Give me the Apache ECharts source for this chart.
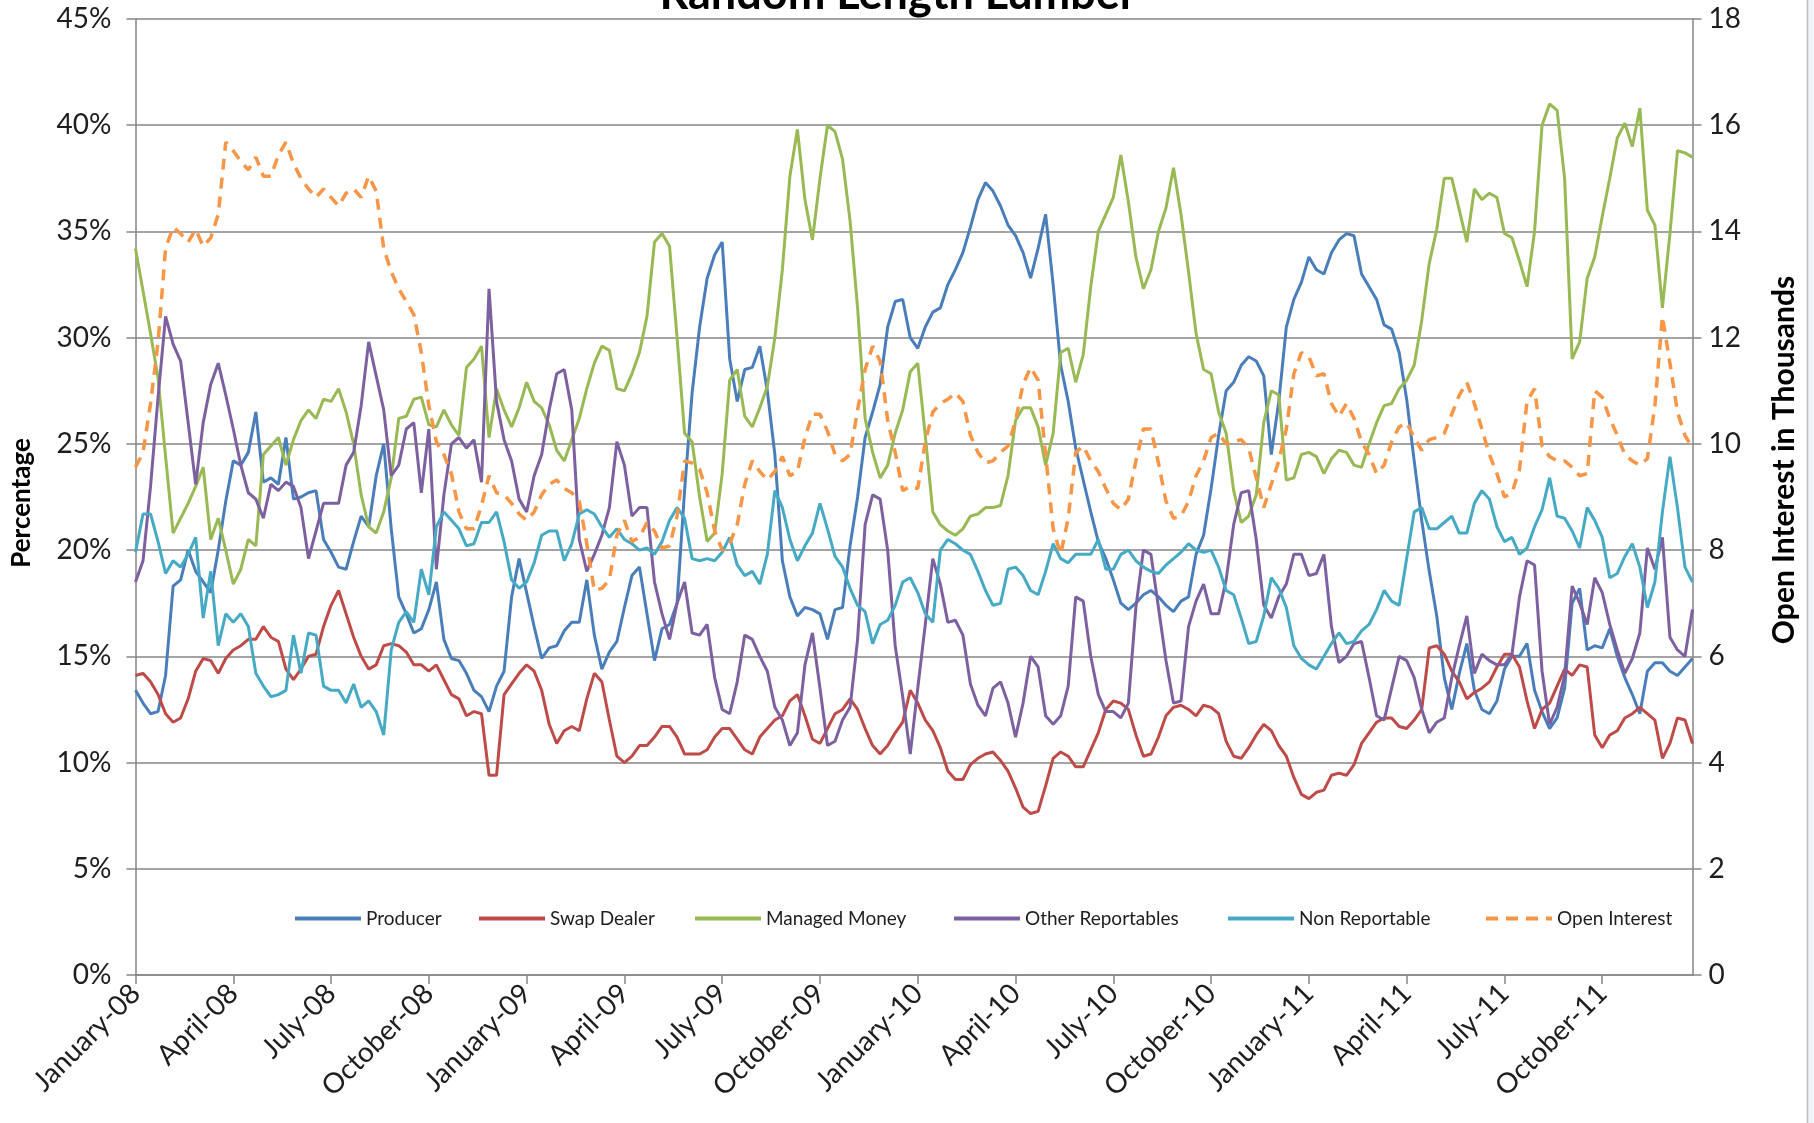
<!DOCTYPE html>
<html>
<head>
<meta charset="utf-8">
<script src="https://cdn.jsdelivr.net/npm/echarts@6/dist/echarts.min.js"></script>
<style>
  html, body { margin: 0; padding: 0; background: #ffffff; }
  #chart { width: 1814px; height: 1123px; }
</style>
</head>
<body>
<div id="chart"></div>
<script>
// Quarter labels shown every 13 weeks on the category axis
const tickLabels = [
  'January-08', 'April-08', 'July-08', 'October-08',
  'January-09', 'April-09', 'July-09', 'October-09',
  'January-10', 'April-10', 'July-10', 'October-10',
  'January-11', 'April-11', 'July-11', 'October-11'
];

// Weekly share of open interest (%), one row per quarter (13 weeks)
const producer = [
  13.4,12.8,12.3,12.4,14.1,18.3,18.6,20.0,19.0,18.5,18.0,20.0,22.3,
  24.2,24.0,24.6,26.5,23.2,23.4,23.1,25.3,22.4,22.5,22.7,22.8,20.5,
  19.9,19.2,19.1,20.4,21.6,21.1,23.5,25.0,21.0,17.8,17.0,16.1,16.3,
  17.2,18.5,15.8,14.9,14.8,14.2,13.4,13.1,12.4,13.6,14.3,17.8,19.6,
  18.0,16.4,14.9,15.4,15.5,16.2,16.6,16.6,18.6,16.0,14.4,15.2,15.7,
  17.3,18.8,19.2,17.0,14.8,16.3,16.5,17.5,22.8,27.4,30.5,32.8,33.9,
  34.5,29.0,27.0,28.5,28.6,29.6,27.5,24.5,19.5,17.8,16.9,17.3,17.2,
  17.0,15.8,17.2,17.3,20.2,22.5,25.3,26.5,27.8,30.5,31.7,31.8,30.0,
  29.5,30.5,31.2,31.4,32.5,33.2,34.0,35.2,36.5,37.3,36.9,36.2,35.3,
  34.8,34.0,32.8,34.2,35.8,32.5,28.7,27.0,24.8,23.3,21.8,20.4,19.6,
  18.6,17.5,17.2,17.5,17.9,18.1,17.8,17.4,17.1,17.6,17.8,19.8,20.7,
  22.9,25.4,27.5,27.9,28.7,29.1,28.9,28.2,24.5,27.0,30.5,31.8,32.6,
  33.8,33.2,33.0,34.0,34.6,34.9,34.8,33.0,32.4,31.8,30.6,30.4,29.3,
  27.1,24.2,21.4,19.0,16.9,14.0,12.5,14.2,15.6,13.4,12.5,12.3,12.9,
  14.4,15.0,15.0,15.6,13.4,12.4,11.6,12.1,13.5,17.5,18.2,15.3,15.5,
  15.4,16.3,15.0,14.0,13.2,12.3,14.3,14.7,14.7,14.3,14.1,14.5,14.9
];

const swapDealer = [
  14.1,14.2,13.8,13.2,12.3,11.9,12.1,13.0,14.3,14.9,14.8,14.2,14.9,
  15.3,15.5,15.8,15.8,16.4,15.9,15.7,14.4,13.9,14.4,15.0,15.1,16.4,
  17.4,18.1,17.0,15.9,15.0,14.4,14.6,15.5,15.6,15.5,15.2,14.6,14.6,
  14.3,14.6,13.9,13.2,13.0,12.2,12.4,12.3,9.4,9.4,13.2,13.7,14.2,
  14.6,14.3,13.4,11.8,10.9,11.5,11.7,11.5,13.0,14.2,13.8,12.0,10.3,
  10.0,10.3,10.8,10.8,11.2,11.7,11.7,11.2,10.4,10.4,10.4,10.6,11.2,
  11.6,11.6,11.1,10.6,10.4,11.2,11.6,12.0,12.2,12.9,13.2,12.2,11.1,
  10.9,11.6,12.3,12.5,13.0,12.5,11.6,10.8,10.4,10.8,11.4,11.9,13.4,
  12.8,12.0,11.5,10.7,9.6,9.2,9.2,9.9,10.2,10.4,10.5,10.1,9.6,
  8.8,7.9,7.6,7.7,8.9,10.2,10.5,10.3,9.8,9.8,10.6,11.4,12.5,
  12.9,12.8,12.5,11.3,10.3,10.4,11.2,12.2,12.6,12.7,12.5,12.2,12.7,
  12.6,12.3,11.0,10.3,10.2,10.7,11.3,11.8,11.5,10.8,10.3,9.3,8.5,
  8.3,8.6,8.7,9.4,9.5,9.4,9.9,10.9,11.4,11.9,12.1,12.1,11.7,
  11.6,12.0,12.5,15.4,15.5,15.1,14.3,13.8,13.0,13.3,13.5,13.8,14.5,
  15.1,15.1,14.5,12.9,11.6,12.5,12.8,13.6,14.4,14.1,14.6,14.5,11.3,
  10.7,11.3,11.5,12.1,12.3,12.6,12.3,12.0,10.2,10.9,12.1,12.0,10.9
];

const managedMoney = [
  34.2,32.2,30.2,28.1,24.4,20.8,21.5,22.2,23.0,23.9,20.5,21.5,20.0,
  18.4,19.1,20.5,20.2,24.5,24.9,25.3,24.0,25.2,26.1,26.6,26.2,27.1,
  27.0,27.6,26.5,25.0,22.6,21.1,20.8,21.8,23.4,26.2,26.3,27.1,27.2,
  25.9,25.8,26.6,25.9,25.4,28.6,29.0,29.6,25.3,27.6,26.6,25.8,26.7,
  27.9,27.0,26.7,25.9,24.7,24.2,25.2,26.2,27.6,28.8,29.6,29.4,27.6,
  27.5,28.3,29.3,31.0,34.5,34.9,34.3,30.0,25.5,25.1,22.5,20.4,20.8,
  23.6,28.0,28.5,26.3,25.8,26.7,27.7,30.0,33.2,37.6,39.8,36.5,34.6,
  37.5,40.0,39.7,38.4,35.5,31.4,26.2,24.6,23.4,24.0,25.5,26.6,28.4,
  28.8,25.4,21.8,21.2,20.9,20.7,21.0,21.6,21.7,22.0,22.0,22.1,23.5,
  26.1,26.7,26.7,25.8,24.0,25.5,29.3,29.5,27.9,29.2,32.4,35.0,35.8,
  36.6,38.6,36.4,33.8,32.3,33.2,35.0,36.1,38.0,35.8,33.1,30.2,28.5,
  28.3,26.5,25.5,22.8,21.3,21.6,22.6,26.0,27.5,27.3,23.3,23.4,24.5,
  24.6,24.4,23.6,24.3,24.7,24.6,24.0,23.9,25.0,26.0,26.8,26.9,27.6,
  28.0,28.7,30.8,33.5,35.1,37.5,37.5,36.0,34.5,37.0,36.5,36.8,36.6,
  34.9,34.7,33.6,32.4,35.0,40.0,41.0,40.7,37.5,29.0,29.8,32.8,33.8,
  35.7,37.5,39.4,40.1,39.0,40.8,36.0,35.3,31.4,34.9,38.8,38.7,38.5
];

const otherReportables = [
  18.5,19.5,23.0,27.2,31.0,29.7,28.9,26.0,23.1,26.0,27.8,28.8,27.3,
  25.7,24.0,22.7,22.4,21.5,23.1,22.8,23.2,23.0,22.0,19.6,20.9,22.2,
  22.2,22.2,24.0,24.6,26.8,29.8,28.2,26.6,23.5,24.0,25.7,26.0,22.7,
  25.7,19.1,22.6,25.0,25.3,24.8,25.2,23.2,32.3,27.0,25.2,24.2,22.4,
  21.8,23.5,24.5,26.6,28.3,28.5,26.6,20.5,19.0,19.8,20.7,22.0,25.1,
  24.0,21.6,22.0,22.0,18.5,17.0,15.8,17.5,18.5,16.1,16.0,16.5,14.0,
  12.5,12.3,13.8,16.0,15.8,15.0,14.3,12.6,12.0,10.8,11.4,14.6,16.1,
  13.5,10.8,11.0,12.0,12.6,15.8,21.2,22.6,22.4,20.0,15.5,13.1,10.4,
  13.5,16.5,19.6,18.4,16.6,16.7,16.0,13.7,12.7,12.2,13.5,13.8,12.8,
  11.2,12.8,15.0,14.5,12.2,11.8,12.2,13.6,17.8,17.6,15.0,13.2,12.4,
  12.4,12.1,12.8,17.3,20.0,19.8,17.3,14.8,12.8,12.9,16.4,17.6,18.4,
  17.0,17.0,18.6,21.2,22.7,22.8,20.5,17.4,16.8,17.8,18.4,19.8,19.8,
  18.8,18.9,19.8,16.4,14.7,15.0,15.6,15.7,14.0,12.2,12.0,13.5,15.0,
  14.8,14.0,12.5,11.4,11.9,12.1,14.0,15.5,16.9,14.2,15.1,14.8,14.6,
  14.6,15.1,17.8,19.5,19.3,14.3,11.8,12.6,14.1,18.3,17.5,16.5,18.7,
  18.0,16.5,15.3,14.2,14.9,16.1,20.1,19.1,20.6,15.9,15.3,15.0,17.2
];

const nonReportable = [
  19.9,21.7,21.7,20.4,18.9,19.5,19.2,19.8,20.6,16.8,19.0,15.5,17.0,
  16.6,17.0,16.4,14.2,13.6,13.1,13.2,13.4,16.0,14.2,16.1,16.0,13.6,
  13.4,13.4,12.8,13.7,12.6,12.9,12.4,11.3,15.3,16.6,17.1,16.6,19.1,
  17.9,21.1,21.8,21.4,21.0,20.2,20.3,21.3,21.3,21.8,20.4,18.6,18.2,
  18.5,19.4,20.7,20.9,20.9,19.5,20.3,21.7,21.9,21.7,21.1,20.6,21.0,
  20.5,20.3,20.0,20.1,19.8,20.4,21.4,22.0,21.5,19.6,19.5,19.6,19.5,
  19.9,20.6,19.3,18.8,19.0,18.4,19.8,22.8,22.0,20.5,19.5,20.2,20.8,
  22.2,21.0,19.7,19.2,18.2,17.4,17.1,15.6,16.5,16.7,17.4,18.5,18.7,
  18.0,17.0,16.6,20.0,20.5,20.3,20.0,19.8,19.0,18.1,17.4,17.5,19.1,
  19.2,18.8,18.1,17.9,19.0,20.3,19.6,19.4,19.8,19.8,19.8,20.5,19.1,
  19.1,19.8,20.0,19.5,19.2,19.0,18.9,19.3,19.6,19.9,20.3,20.0,19.9,
  20.0,19.2,18.1,17.9,16.8,15.6,15.7,16.9,18.7,18.2,17.3,15.5,14.9,
  14.6,14.4,15.0,15.6,16.1,15.6,15.7,16.2,16.5,17.2,18.1,17.6,17.4,
  19.6,21.8,22.0,21.0,21.0,21.3,21.6,20.8,20.8,22.2,22.8,22.4,21.1,
  20.4,20.6,19.8,20.1,21.1,21.9,23.4,21.6,21.5,20.9,20.1,22.0,21.4,
  20.6,18.7,18.9,19.7,20.3,19.2,17.3,18.5,21.8,24.4,22.0,19.2,18.5
];

// Open interest, thousands of contracts (right axis)
const openInterest = [
  9.56,9.84,10.76,11.92,13.68,14.08,13.96,13.80,14.04,13.72,13.88,14.32,15.68,
  15.52,15.32,15.16,15.40,15.04,15.04,15.44,15.68,15.28,15.00,14.80,14.64,14.80,
  14.64,14.48,14.72,14.80,14.64,15.04,14.76,13.68,13.24,12.92,12.68,12.44,11.72,
  10.72,10.04,9.80,9.44,8.72,8.40,8.40,8.84,9.40,9.08,9.04,8.88,8.68,
  8.56,8.72,9.04,9.24,9.32,9.16,9.08,8.92,8.12,7.24,7.28,7.44,8.28,
  8.56,8.16,8.24,8.52,8.36,8.04,8.08,8.64,9.68,9.64,9.52,9.08,8.36,
  8.00,8.12,8.48,9.24,9.68,9.48,9.32,9.48,9.76,9.40,9.48,10.12,10.56,
  10.56,10.24,9.80,9.68,9.80,10.64,11.40,11.84,11.56,10.44,9.84,9.12,9.20,
  9.16,10.04,10.60,10.76,10.84,10.96,10.80,10.16,9.84,9.64,9.68,9.84,9.96,
  10.44,11.12,11.44,11.20,9.80,8.40,7.92,8.60,9.84,9.96,9.68,9.48,9.16,
  8.88,8.76,8.96,9.68,10.28,10.28,9.64,8.92,8.60,8.64,8.92,9.40,9.68,
  10.12,10.20,10.00,10.04,10.08,9.92,9.36,8.80,9.24,9.68,10.28,11.32,11.72,
  11.64,11.28,11.32,10.76,10.52,10.76,10.48,10.04,9.80,9.44,9.60,10.04,10.32,
  10.40,10.12,9.88,10.08,10.12,10.20,10.56,10.92,11.16,10.76,10.28,9.80,9.44,
  9.00,9.08,9.52,10.80,11.04,9.96,9.76,9.68,9.68,9.56,9.40,9.44,11.00,
  10.88,10.48,10.16,9.80,9.68,9.60,9.72,10.72,12.40,11.52,10.60,10.16,9.92
];

// Weekly report dates, one per data point
const weeks = producer.map(function (_, i) {
  const d = new Date(Date.UTC(2008, 0, 1 + 7 * i));
  return d.toISOString().slice(0, 10);
});

const FONT = 'Lato, "Open Sans", sans-serif';
const GRID_GREY = '#868686';
const TEXT = '#1e1e1e';

const colors = {
  producer: '#4A7EBB',
  swap: '#BE4B48',
  managed: '#98B954',
  other: '#7D60A0',
  nonrep: '#46AAC5',
  oi: '#F79646'
};

// Legend keys: a solid bar for the solid series, a dashed bar for open interest
const SOLID_KEY = 'rect';
const DASHED_KEY = 'path://M0,0h12v4h-12z M20,0h12v4h-12z M40,0h12v4h-12z M60,0h6v4h-6z';

function lineSeries(name, data, color, extra) {
  return Object.assign({
    name: name,
    type: 'line',
    data: data,
    yAxisIndex: 0,
    symbol: 'none',
    smooth: false,
    lineStyle: { width: 3, color: color },
    itemStyle: { color: color },
    emphasis: { disabled: true }
  }, extra || {});
}

function legendAt(name, left, icon) {
  return {
    data: [name],
    left: left,
    top: 904,
    icon: icon || SOLID_KEY,
    itemWidth: 66,
    itemHeight: 4,
    selectedMode: false,
    textStyle: { fontFamily: FONT, fontSize: 19, color: TEXT }
  };
}

const chart = echarts.init(document.getElementById('chart'), null, { renderer: 'canvas' });

chart.setOption({
  animation: false,
  backgroundColor: '#ffffff',
  title: {
    text: 'Random Length Lumber',
    left: 893,
    textAlign: 'center',
    top: -33,
    textStyle: { fontFamily: FONT, fontWeight: 'bold', fontSize: 45, color: '#000000' }
  },
  legend: [
    legendAt('Producer', 290),
    legendAt('Swap Dealer', 474),
    legendAt('Managed Money', 690),
    legendAt('Other Reportables', 949),
    legendAt('Non Reportable', 1223),
    legendAt('Open Interest', 1481, DASHED_KEY)
  ],
  grid: { left: 135.5, right: 121.5, top: 19, bottom: 148, containLabel: false },
  xAxis: {
    type: 'category',
    data: weeks,
    boundaryGap: false,
    axisLine: { show: true, lineStyle: { color: GRID_GREY, width: 1.5 } },
    axisTick: { show: true, interval: 12, length: 9, lineStyle: { color: GRID_GREY, width: 1.5 } },
    axisLabel: {
      interval: 12,
      rotate: 45,
      margin: 14,
      fontFamily: FONT,
      fontSize: 28,
      color: TEXT,
      formatter: function (value, index) { return tickLabels[Math.round(index / 13)]; }
    },
    splitLine: { show: false }
  },
  yAxis: [
    {
      type: 'value',
      position: 'left',
      min: 0, max: 45, interval: 5,
      axisLine: { show: true, lineStyle: { color: GRID_GREY, width: 1.5 } },
      axisTick: { show: true, length: 9, lineStyle: { color: GRID_GREY, width: 1.5 } },
      axisLabel: { margin: 24, fontFamily: FONT, fontSize: 28, color: TEXT, formatter: '{value}%' },
      splitLine: { show: true, lineStyle: { color: GRID_GREY, width: 1.5 } }
    },
    {
      type: 'value',
      position: 'right',
      min: 0, max: 18, interval: 2,
      axisLine: { show: true, lineStyle: { color: GRID_GREY, width: 1.5 } },
      axisTick: { show: true, length: 9, lineStyle: { color: GRID_GREY, width: 1.5 } },
      axisLabel: { margin: 16, fontFamily: FONT, fontSize: 28, color: TEXT },
      splitLine: { show: false }
    }
  ],
  graphic: [
    {
      type: 'text',
      x: 22, y: 503,
      rotation: Math.PI / 2,
      style: {
        text: 'Percentage',
        font: 'bold 26px ' + FONT,
        fill: '#000000',
        textAlign: 'center', textVerticalAlign: 'middle',
        align: 'center', verticalAlign: 'middle'
      }
    },
    {
      type: 'text',
      x: 1784, y: 460,
      rotation: Math.PI / 2,
      style: {
        text: 'Open Interest in Thousands',
        font: 'bold 30px ' + FONT,
        fill: '#000000',
        textAlign: 'center', textVerticalAlign: 'middle',
        align: 'center', verticalAlign: 'middle'
      }
    },
    // outer frame edge along the right side of the chart area
    {
      type: 'rect',
      shape: { x: 1808, y: 0, width: 6, height: 1123 },
      style: { fill: '#f1f5f8' },
      silent: true
    },
    {
      type: 'line',
      shape: { x1: 1807.5, y1: 0, x2: 1807.5, y2: 1123 },
      style: { stroke: '#bcbcbc', lineWidth: 1.5 },
      silent: true
    }
  ],
  series: [
    lineSeries('Producer', producer, colors.producer),
    lineSeries('Swap Dealer', swapDealer, colors.swap),
    lineSeries('Managed Money', managedMoney, colors.managed),
    lineSeries('Other Reportables', otherReportables, colors.other),
    lineSeries('Non Reportable', nonReportable, colors.nonrep),
    lineSeries('Open Interest', openInterest, colors.oi, {
      yAxisIndex: 1,
      lineStyle: { width: 3.5, color: colors.oi, type: [11, 8] }
    })
  ]
});
</script>
</body>
</html>
